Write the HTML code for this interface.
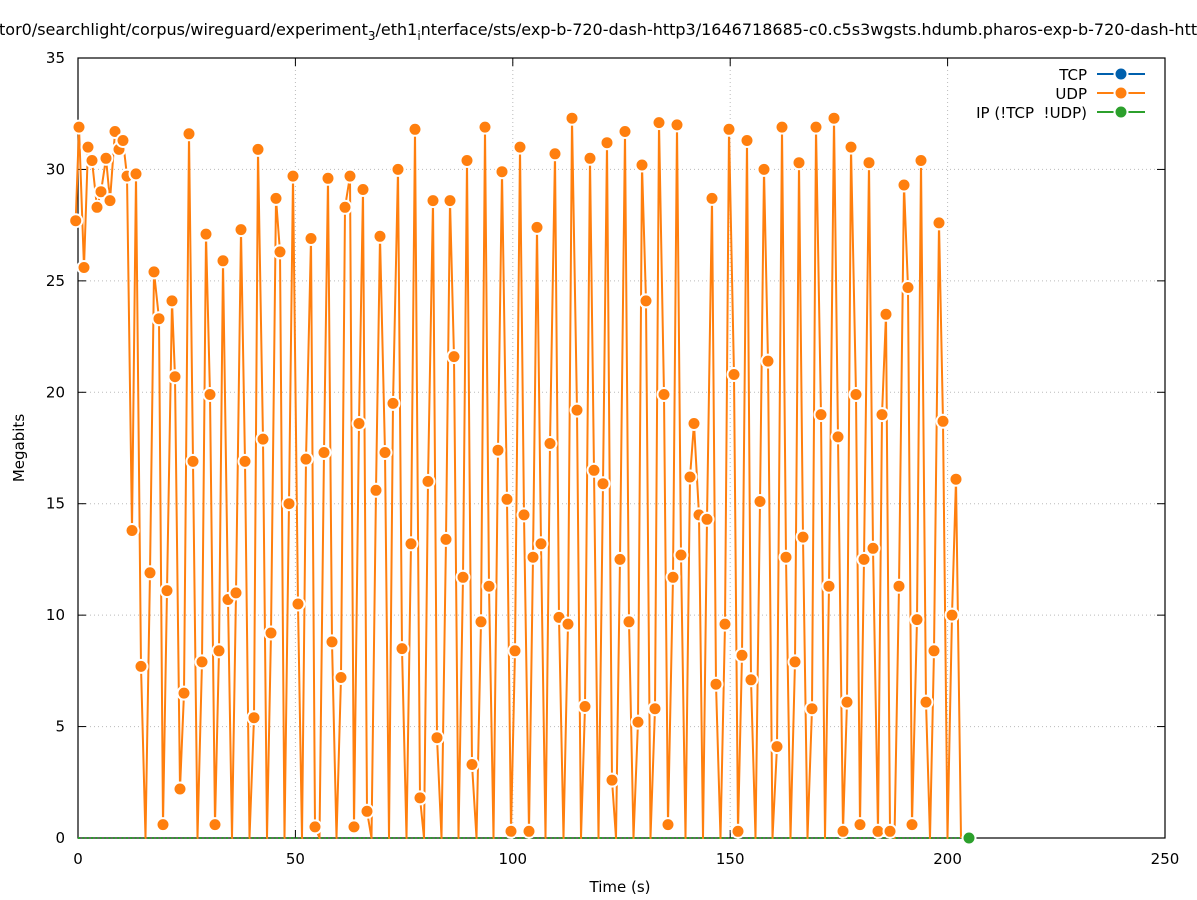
<!DOCTYPE html>
<html><head><meta charset="utf-8"><style>
html,body{margin:0;padding:0;background:#fff;}
svg{display:block;font-family:"DejaVu Sans","Liberation Sans",sans-serif;}
</style></head><body>
<svg id="s" width="1197" height="900" viewBox="0 0 1197 900" xmlns="http://www.w3.org/2000/svg">
<rect width="1197" height="900" fill="#fff"/>
<g id="grid" stroke="#bbb" stroke-width="1" stroke-dasharray="1,3"></g>
<g id="ticks" stroke="#000" stroke-width="1"></g>
<rect x="78" y="58" width="1087" height="780" fill="none" stroke="#000" stroke-width="1.2"/>
<g id="lbl" font-size="15" fill="#000"></g>
<text x="-1" y="35" font-size="16">tor0/searchlight/corpus/wireguard/experiment<tspan font-size="12" dy="5">3</tspan><tspan dy="-5">/eth1</tspan><tspan font-size="12" dy="5">i</tspan><tspan dy="-5">nterface/sts/exp-b-720-dash-http3/1646718685-c0.c5s3wgsts.hdumb.pharos-exp-b-720-dash-http3</tspan></text>
<text x="620" y="892" font-size="15" text-anchor="middle">Time (s)</text>
<text transform="translate(24,448) rotate(-90)" font-size="15" text-anchor="middle">Megabits</text>
<rect x="965" y="62" width="125" height="60" fill="#fff"/>
<g font-size="15" text-anchor="end">
<text x="1087" y="80">TCP</text>
<text x="1087" y="99">UDP</text>
<text x="1087" y="118">IP (!TCP &#160;!UDP)</text>
</g>
<g stroke-width="2">
<line x1="1097" y1="74" x2="1145" y2="74" stroke="#0060ad"/>
<line x1="1097" y1="93" x2="1145" y2="93" stroke="#ff7f0e"/>
<line x1="1097" y1="112" x2="1145" y2="112" stroke="#2ca02c"/>
</g>
<circle cx="1121" cy="74" r="6.5" fill="#0060ad" stroke="#fff" stroke-width="2"/>
<circle cx="1121" cy="93" r="6.5" fill="#ff7f0e" stroke="#fff" stroke-width="2"/>
<circle cx="1121" cy="112" r="6.5" fill="#2ca02c" stroke="#fff" stroke-width="2"/>
<line x1="78" y1="838" x2="969" y2="838" stroke="#2ca02c" stroke-width="2" stroke-dasharray="2,2.35"/>
<g id="series"></g>
<circle cx="969" cy="838" r="6.5" fill="#2ca02c" stroke="#fff" stroke-width="2"/>
</svg>
<script>
var NS="http://www.w3.org/2000/svg";
function el(p,t,a,txt){var e=document.createElementNS(NS,t);for(var k in a)e.setAttribute(k,a[k]);if(txt!=null)e.textContent=txt;document.getElementById(p).appendChild(e);return e;}
var X0=78,XS=1087/250,Y0=838,YS=780/35;
for(var v=0;v<=35;v+=5){var y=Y0-v*YS;if(v>0&&v<35)el("grid","line",{x1:78,x2:1165,y1:y,y2:y});
el("ticks","line",{x1:78,x2:86,y1:y,y2:y});el("ticks","line",{x1:1157,x2:1165,y1:y,y2:y});
el("lbl","text",{x:65,y:y+5,"text-anchor":"end"},v);}
for(var t=0;t<=250;t+=50){var x=X0+t*XS;if(t>0&&t<250)el("grid","line",{x1:x,x2:x,y1:58,y2:838});
el("ticks","line",{x1:x,x2:x,y1:838,y2:830});el("ticks","line",{x1:x,x2:x,y1:58,y2:66});
el("lbl","text",{x:x,y:864,"text-anchor":"middle"},t);}
var pts=[[75.7,27.7],[79,31.9],[84,25.6],[88,31.0],[92,30.4],[97,28.3],[101,29.0],[106,30.5],[110,28.6],[115,31.7],[119,30.9],[123,31.3],[127,29.7],[132,13.8],[136,29.8],[141,7.7],[150,11.9],[154,25.4],[159,23.3],[163,0.6],[167,11.1],[172,24.1],[175,20.7],[180,2.2],[184,6.5],[189,31.6],[193,16.9],[202,7.9],[206,27.1],[210,19.9],[215,0.6],[219,8.4],[223,25.9],[228,10.7],[236,11.0],[241,27.3],[245,16.9],[254,5.4],[258,30.9],[263,17.9],[271,9.2],[276,28.7],[280,26.3],[289,15.0],[293,29.7],[298,10.5],[306,17.0],[311,26.9],[315,0.5],[324,17.3],[328,29.6],[332,8.8],[341,7.2],[345,28.3],[350,29.7],[354,0.5],[359,18.6],[363,29.1],[367,1.2],[376,15.6],[380,27.0],[385,17.3],[393,19.5],[398,30.0],[402,8.5],[411,13.2],[415,31.8],[420,1.8],[428,16.0],[433,28.6],[437,4.5],[446,13.4],[450,28.6],[454,21.6],[463,11.7],[467,30.4],[472,3.3],[481,9.7],[485,31.9],[489,11.3],[498,17.4],[502,29.9],[507,15.2],[511,0.3],[515,8.4],[520,31.0],[524,14.5],[529,0.3],[533,12.6],[537,27.4],[541,13.2],[550,17.7],[555,30.7],[559,9.9],[568,9.6],[572,32.3],[577,19.2],[585,5.9],[590,30.5],[594,16.5],[603,15.9],[607,31.2],[612,2.6],[620,12.5],[625,31.7],[629,9.7],[638,5.2],[642,30.2],[646,24.1],[655,5.8],[659,32.1],[664,19.9],[668,0.6],[673,11.7],[677,32.0],[681,12.7],[690,16.2],[694,18.6],[699,14.5],[707,14.3],[712,28.7],[716,6.9],[725,9.6],[729,31.8],[734,20.8],[738,0.3],[742,8.2],[747,31.3],[751,7.1],[760,15.1],[764,30.0],[768,21.4],[777,4.1],[782,31.9],[786,12.6],[795,7.9],[799,30.3],[803,13.5],[812,5.8],[816,31.9],[821,19.0],[829,11.3],[834,32.3],[838,18.0],[843,0.3],[847,6.1],[851,31.0],[856,19.9],[860,0.6],[864,12.5],[869,30.3],[873,13.0],[878,0.3],[882,19.0],[886,23.5],[890,0.3],[899,11.3],[904,29.3],[908,24.7],[912,0.6],[917,9.8],[921,30.4],[926,6.1],[934,8.4],[939,27.6],[943,18.7],[952,10.0],[956,16.1],[961,0]];
var line=[];for(var i=0;i<pts.length;i++){if(i>0&&pts[i][0]-pts[i-1][0]>6.5)line.push([(pts[i][0]+pts[i-1][0])/2,0]);line.push(pts[i]);}
el("series","polyline",{points:line.map(function(p){return p[0]+","+(Y0-p[1]*YS).toFixed(1)}).join(" "),fill:"none",stroke:"#ff7f0e","stroke-width":2,"stroke-linejoin":"round"});
pts.forEach(function(p){if(p[1]>0)el("series","circle",{cx:p[0],cy:(Y0-p[1]*YS).toFixed(1),r:6.5,fill:"#ff7f0e",stroke:"#fff","stroke-width":2});});
</script>
</body></html>
